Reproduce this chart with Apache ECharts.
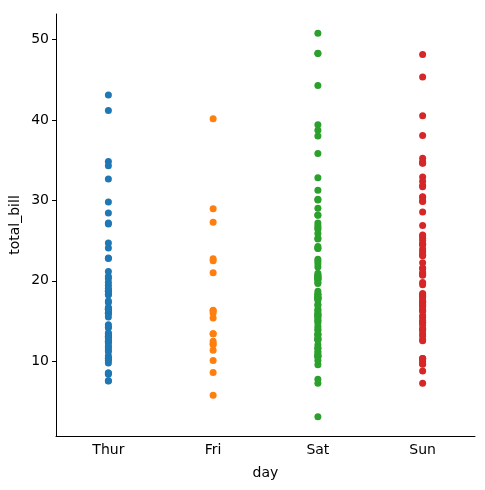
<!DOCTYPE html>
<html>
<head>
<meta charset="utf-8">
<script src="https://cdn.jsdelivr.net/npm/echarts@6/dist/echarts.min.js"></script>
<style>
  html, body { margin: 0; padding: 0; background: #fff; }
  #main { width: 485px; height: 490px; }
</style>
</head>
<body>
<div id="main"></div>
<script>
var days = ['Thur', 'Fri', 'Sat', 'Sun'];
var colors = ['#1f77b4', '#ff7f0e', '#2ca02c', '#d62728'];
var yTicks = [10, 20, 30, 40, 50];

// total_bill per day
var thur = [27.20, 22.76, 17.29, 19.44, 16.66, 10.07, 32.68, 15.98, 34.83, 13.03, 18.28, 24.71, 21.16,
    10.65, 12.43, 24.08, 11.69, 13.42, 14.26, 15.95, 12.48, 29.80, 8.52, 14.52, 11.38, 22.82, 19.08,
    20.27, 11.17, 12.26, 18.26, 8.51, 10.33, 14.15, 16.00, 13.16, 17.47, 34.30, 41.19, 27.05, 16.43,
    8.35, 18.64, 11.87, 9.78, 7.51, 19.81, 28.44, 15.48, 16.58, 7.56, 10.34, 43.11, 13.00, 13.51,
    18.71, 12.74, 13.00, 16.40, 20.53, 16.47, 18.78];
var fri = [28.97, 22.49, 5.75, 16.32, 22.75, 40.17, 27.28, 12.03, 21.01, 12.46, 11.35, 15.38,
    12.16, 13.42, 8.58, 15.98, 13.42, 16.27, 10.09];
var sat = [20.65, 17.92, 20.29, 15.77, 39.42, 19.82, 17.81, 13.37, 12.69, 21.70, 19.65, 9.55, 18.35,
    15.06, 20.69, 17.78, 24.06, 16.31, 16.93, 18.69, 31.27, 16.04, 38.01, 26.41, 11.24, 48.27, 20.29,
    13.81, 11.02, 18.29, 17.59, 20.08, 16.45, 3.07, 20.23, 15.01, 12.02, 17.07, 26.86, 25.28, 14.73,
    10.51, 17.92, 44.30, 22.42, 20.92, 15.36, 20.49, 25.21, 18.24, 14.31, 14.00, 7.25, 10.59, 10.63,
    50.81, 15.81, 26.59, 38.73, 24.27, 12.76, 30.06, 25.89, 48.33, 13.27, 28.17, 12.90, 28.15, 11.59,
    7.74, 30.14, 20.45, 13.28, 22.12, 24.01, 15.69, 11.61, 10.77, 15.53, 10.07, 12.60, 32.83, 35.83,
    29.03, 27.18, 22.67, 17.82];
var sun = [16.99, 10.34, 21.01, 23.68, 24.59, 25.29, 8.77, 26.88, 15.04, 14.78, 10.27, 35.26, 15.42,
    18.43, 14.83, 21.58, 10.33, 16.29, 16.97, 17.46, 13.94, 9.68, 30.40, 18.29, 22.23, 32.40, 28.55,
    18.04, 12.54, 10.29, 34.81, 9.94, 25.56, 19.49, 38.07, 23.95, 25.71, 17.31, 29.93, 14.07, 13.13,
    17.26, 24.55, 19.77, 29.85, 48.17, 25.00, 13.39, 16.49, 21.50, 12.66, 16.21, 13.81, 17.51, 24.52,
    20.76, 31.71, 7.25, 31.85, 16.82, 32.90, 17.89, 14.48, 9.60, 34.63, 34.65, 23.33, 45.35, 23.17,
    40.55, 20.69, 20.90, 30.46, 18.15, 23.10, 15.69];

var values = [thur, fri, sat, sun];

var myChart = echarts.init(document.getElementById('main'));

var series = [];
for (var i = 0; i < days.length; i++) {
    var pts = [];
    for (var j = 0; j < values[i].length; j++) {
        pts.push([days[i], values[i][j]]);
    }
    series.push({
        name: days[i],
        type: 'scatter',
        symbol: 'circle',
        symbolSize: 7,
        itemStyle: { color: colors[i], opacity: 1 },
        data: pts
    });
}

var option = {
    animation: false,
    grid: { left: 56, right: 10, top: 14, bottom: 54, containLabel: false, outerBoundsMode: 'none' },
    xAxis: {
        type: 'category',
        data: days,
        boundaryGap: true,
        name: 'day',
        nameLocation: 'middle',
        nameGap: 30,
        nameTextStyle: { fontFamily: 'DejaVu Sans', fontSize: 14, color: '#000' },
        axisLine: { lineStyle: { color: '#000', width: 1 } },
        axisTick: { alignWithLabel: true, length: 4, lineStyle: { color: '#000' } },
        axisLabel: { fontFamily: 'DejaVu Sans', fontSize: 14, color: '#000', margin: 7 },
        splitLine: { show: false }
    },
    yAxis: {
        type: 'value',
        min: 0.68,
        max: 53.2,
        name: 'total_bill',
        nameLocation: 'middle',
        nameGap: 34,
        nameMoveOverlap: false,
        nameTextStyle: { fontFamily: 'DejaVu Sans', fontSize: 14, color: '#000' },
        axisLine: { show: true, lineStyle: { color: '#000', width: 1 } },
        axisTick: { show: true, length: 4, customValues: yTicks, lineStyle: { color: '#000' } },
        axisLabel: { fontFamily: 'DejaVu Sans', fontSize: 14, color: '#000', margin: 7, customValues: yTicks },
        splitLine: { show: false }
    },
    series: series
};

myChart.setOption(option);
</script>
</body>
</html>
